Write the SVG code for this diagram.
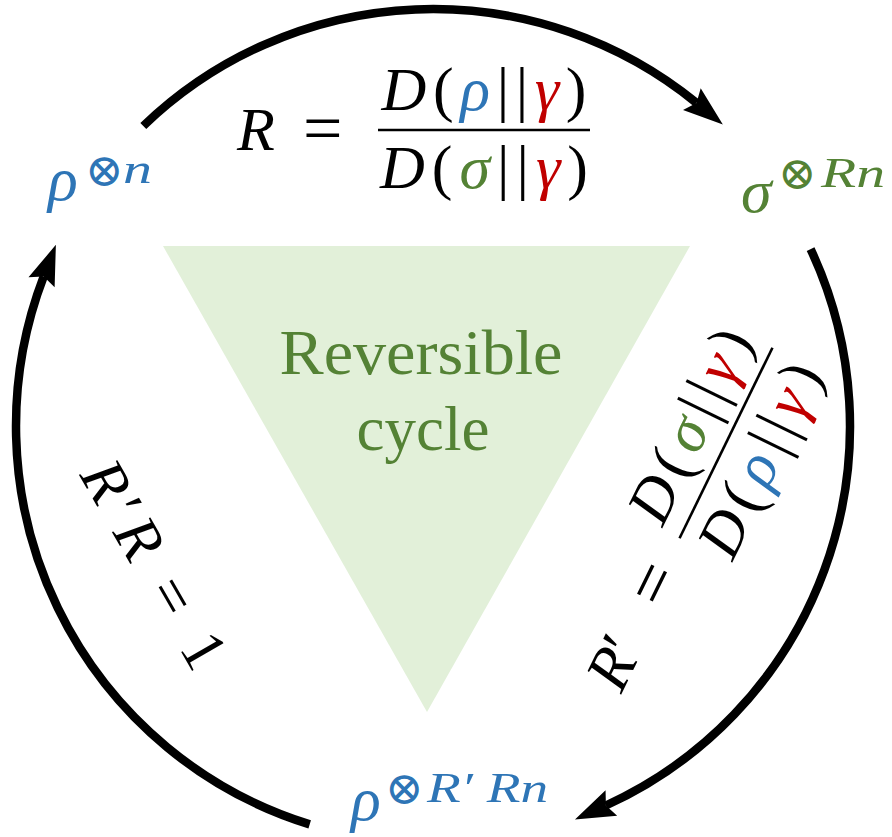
<svg xmlns="http://www.w3.org/2000/svg" width="892" height="837" viewBox="0 0 892 837">
<style>
text{font-family:"Liberation Serif","DejaVu Serif",serif;fill:#000}
.mi{font-style:italic}
.blue{fill:#2e75b6}
.green{fill:#548235}
.red{fill:#c00000}
.big{font-size:62px}
.sup{font-size:42px}
.op{font-family:"DejaVu Sans","DejaVu Serif",sans-serif;font-weight:200;font-size:46px}
.eq{font-size:70px}
.arc{fill:none;stroke:#000;stroke-width:8.5;marker-end:url(#ah)}
.bar{stroke:#000;stroke-width:2.6}
</style>
<defs>
<marker id="ah" markerUnits="userSpaceOnUse" markerWidth="50" markerHeight="40" viewBox="-2 -20 50 40" refX="6" refY="0" orient="auto">
<path d="M0,-14 L40,0 L0,14 L6,0 Z" fill="#000"/>
</marker>
</defs>
<rect width="892" height="837" fill="#fff"/>
<g id="cycle-triangle">
<polygon points="163,246 690,246 427,712" fill="#e2f0d9"/>
<text x="421" y="374" text-anchor="middle" class="green" font-size="63" textLength="283" lengthAdjust="spacingAndGlyphs">Reversible</text>
<text x="423" y="450" text-anchor="middle" class="green" font-size="63">cycle</text>
</g>
<g id="connectors">
<path class="arc" d="M143.3,126 A417,417 0 0 1 696.5,102.9"/>
<path class="arc" d="M810.6,249.1 A417,417 0 0 1 605.9,805.5"/>
<path class="arc" d="M309.7,824.4 A417,417 0 0 1 43.7,276.6"/>
</g>
<g id="state-rho-n">
<text x="48" y="200" class="big mi blue">ρ</text>
<text x="85" y="186" class="op blue">⊗</text>
<text x="123" y="183" class="sup mi blue" textLength="29" lengthAdjust="spacingAndGlyphs">n</text>
</g>
<g id="state-sigma-Rn">
<text x="741" y="212" class="big mi green">σ</text>
<text x="778" y="189" class="op green">⊗</text>
<text x="821" y="187" class="sup mi green" textLength="64" lengthAdjust="spacingAndGlyphs">Rn</text>
</g>
<g id="state-rho-RRn">
<text x="351" y="820" class="big mi blue">ρ</text>
<text x="385" y="804" class="op blue">⊗</text>
<text x="427" y="802" class="sup mi blue" textLength="121" lengthAdjust="spacingAndGlyphs">R′ Rn</text>
</g>
<g id="label-R">
<text x="237" y="150" class="big mi">R</text>
<text x="303" y="152" class="eq">=</text>
<line class="bar" x1="378" y1="130" x2="590" y2="130"/>
<text x="484" y="110" text-anchor="middle" class="big" textLength="205"><tspan class="mi">D</tspan>(<tspan class="mi blue">ρ</tspan>||<tspan class="mi red">γ</tspan>)</text>
<text x="484" y="188" text-anchor="middle" class="big" textLength="208"><tspan class="mi">D</tspan>(<tspan class="mi green">σ</tspan>||<tspan class="mi red">γ</tspan>)</text>
</g>
<g id="label-Rprime" transform="translate(726,443) rotate(-64)">
<text x="-272" y="16" class="big"><tspan class="mi">R</tspan>′</text>
<text x="-178" y="18" class="eq">=</text>
<line class="bar" x1="-106" y1="0" x2="106" y2="0"/>
<text x="0" y="-20" text-anchor="middle" class="big" textLength="208"><tspan class="mi">D</tspan>(<tspan class="mi green">σ</tspan>||<tspan class="mi red">γ</tspan>)</text>
<text x="0" y="58" text-anchor="middle" class="big" textLength="208"><tspan class="mi">D</tspan>(<tspan class="mi blue">ρ</tspan>||<tspan class="mi red">γ</tspan>)</text>
</g>
<g id="label-product" transform="translate(79,475) rotate(60)">
<text x="0" y="0" class="big" textLength="230"><tspan class="mi">R</tspan>′<tspan class="mi">R</tspan> = 1</text>
</g>
</svg>
